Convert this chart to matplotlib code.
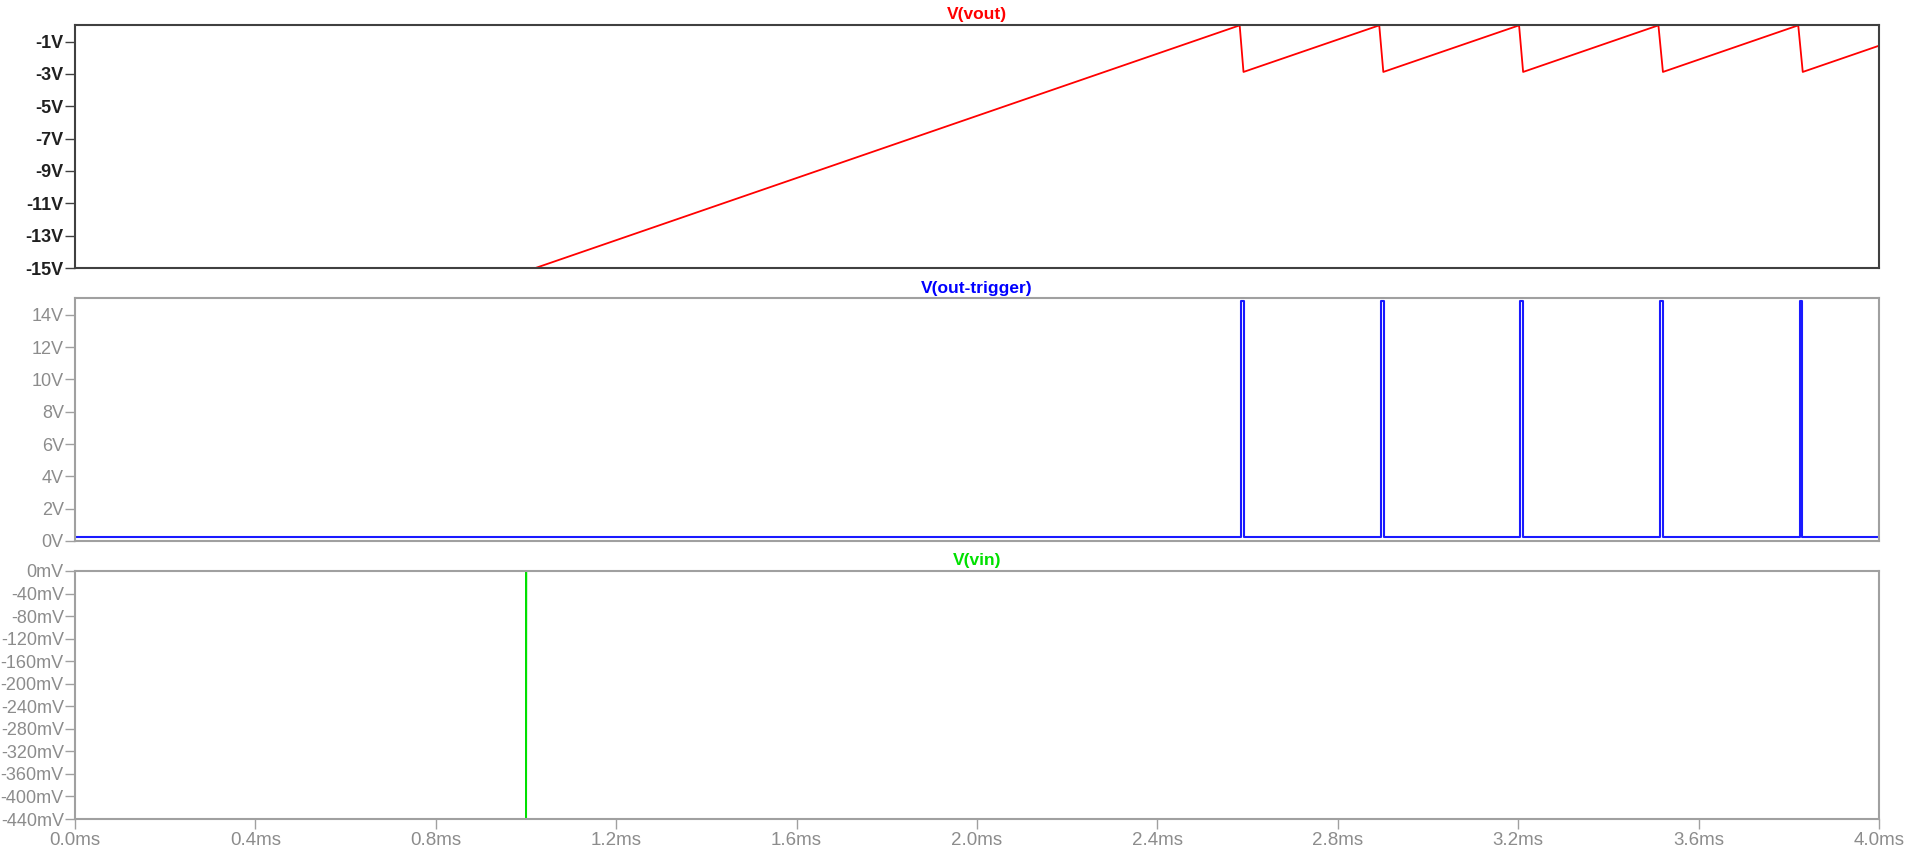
import matplotlib
matplotlib.use('Agg')
import matplotlib.pyplot as plt

plt.rcParams['font.family'] = ['Liberation Sans', 'DejaVu Sans']

# Data (time in ms)
vout_t = [0.0, 1.0, 2.5825, 2.591, 2.892, 2.901, 3.202, 3.211, 3.511, 3.521, 3.821, 3.831, 4.0]
vout_v = [-15.3, -15.2, 0.0, -2.88, 0.0, -2.88, 0.0, -2.88, 0.0, -2.88, 0.0, -2.88, -1.26]

pulse_start = [2.5865, 2.896, 3.205, 3.515, 3.824]
pulse_end = [2.5925, 2.902, 3.211, 3.521, 3.830]
trig_low = 0.25
trig_high = 14.85

vin_t = [0.0, 1.0, 1.0005, 1.001, 4.0]
vin_mv = [0.0, 0.0, -500.0, 0.0, 0.0]

vout_ticks = [-1, -3, -5, -7, -9, -11, -13, -15]
trig_ticks = [0, 2, 4, 6, 8, 10, 12, 14]
vin_ticks = [0, -40, -80, -120, -160, -200, -240, -280, -320, -360, -400, -440]
time_ticks = [0.0, 0.4, 0.8, 1.2, 1.6, 2.0, 2.4, 2.8, 3.2, 3.6, 4.0]

# build step trace for the trigger output
trig_t = [0.0]
trig_v = [trig_low]
for s, e in zip(pulse_start, pulse_end):
    trig_t += [s, s, e, e]
    trig_v += [trig_low, trig_high, trig_high, trig_low]
trig_t.append(4.0)
trig_v.append(trig_low)

fig = plt.figure(figsize=(19.07, 8.55), dpi=100)
left, width = 0.0393, 0.946
ax1 = fig.add_axes([left, 0.6865, width, 0.2848])
ax2 = fig.add_axes([left, 0.3673, width, 0.2838])
ax3 = fig.add_axes([left, 0.0421, width, 0.2901])

gray = '#8c8c8c'
fs = 13

def style(ax, edge, lblcolor, weight):
    for sp in ax.spines.values():
        sp.set_color(edge)
        sp.set_linewidth(1.5)
    ax.set_xlim(0, 4.0)
    ax.tick_params(axis='y', direction='out', length=7, width=1, color=edge,
                   labelcolor=lblcolor, labelsize=fs, pad=1)
    for lb in ax.get_yticklabels():
        lb.set_fontweight(weight)

# V(vout)
ax1.plot(vout_t, vout_v, color='#ff0000', lw=1.3)
ax1.set_ylim(-15, 0.05)
ax1.set_yticks(vout_ticks)
ax1.set_yticklabels(['%dV' % v for v in vout_ticks])
ax1.set_xticks([])
style(ax1, '#404040', '#202020', 'bold')
ax1.set_title('V(vout)', color='#ff0000', fontsize=12.5, fontweight='bold', pad=4)

# V(out-trigger)
ax2.plot(trig_t, trig_v, color='#1a1aff', lw=1.5)
ax2.set_ylim(0, 15.02)
ax2.set_yticks(trig_ticks)
ax2.set_yticklabels(['%dV' % v for v in trig_ticks])
ax2.set_xticks([])
style(ax2, '#a0a0a0', gray, 'normal')
ax2.set_title('V(out-trigger)', color='#0000ff', fontsize=12.5, fontweight='bold', pad=4)

# V(vin)
ax3.plot(vin_t, vin_mv, color='#00e000', lw=1.2)
ax3.set_ylim(-440, 0)
ax3.set_yticks(vin_ticks)
ax3.set_yticklabels(['%dmV' % v for v in vin_ticks])
ax3.set_xticks(time_ticks)
ax3.set_xticklabels(['%.1fms' % t for t in time_ticks])
style(ax3, '#a0a0a0', gray, 'normal')
ax3.tick_params(axis='x', direction='out', length=7, width=1, color='#a0a0a0',
                labelcolor=gray, labelsize=fs + 0.5, pad=2)
ax3.set_title('V(vin)', color='#00e000', fontsize=12.5, fontweight='bold', pad=4)

fig.savefig('out.png', dpi=100, facecolor='white')
